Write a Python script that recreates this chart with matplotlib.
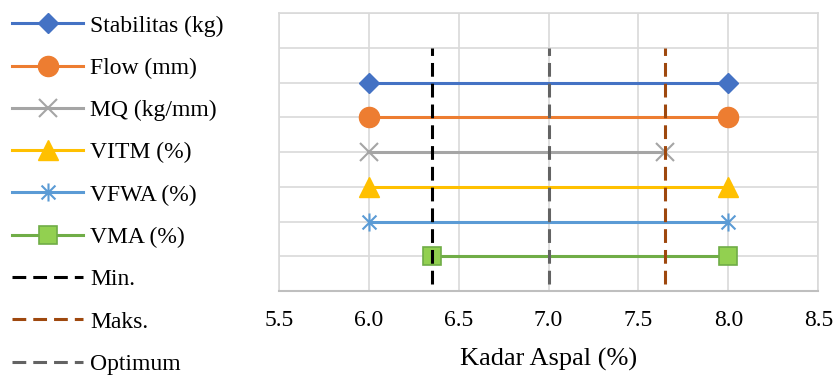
import matplotlib.pyplot as plt
from matplotlib.path import Path

plt.rcParams['font.family'] = ['Liberation Serif', 'DejaVu Serif']

# Rentang kadar aspal yang memenuhi tiap parameter
parameter = ['Stabilitas (kg)', 'Flow (mm)', 'MQ (kg/mm)', 'VITM (%)', 'VFWA (%)', 'VMA (%)']
kadar_awal = [6.0, 6.0, 6.0, 6.0, 6.0, 6.35]
kadar_akhir = [8.0, 8.0, 7.65, 8.0, 8.0, 8.0]
posisi_y = [6, 5, 4, 3, 2, 1]

# Batas kadar aspal
kadar_min = 6.35
kadar_maks = 7.65
kadar_optimum = 7.0
garis_y = [0.2, 7]

# Marker bintang ala Excel: silang + garis tegak
bintang = Path([(-1, -1), (1, 1), (-1, 1), (1, -1), (0, -1.3), (0, 1.3)],
               [Path.MOVETO, Path.LINETO, Path.MOVETO, Path.LINETO, Path.MOVETO, Path.LINETO])

gaya = [
    dict(color='#4472c4', marker='D', ms=10, mfc='#4472c4', mec='#4472c4'),
    dict(color='#ed7d31', marker='o', ms=14.5, mfc='#ed7d31', mec='#ed7d31'),
    dict(color='#a5a5a5', marker='x', ms=13.5, mew=1.5, mfc='none', mec='#a5a5a5'),
    dict(color='#ffc000', marker='^', ms=14.5, mfc='#ffc000', mec='#ffc000'),
    dict(color='#5b9bd5', marker=bintang, ms=13, mew=1.5, mfc='none', mec='#5b9bd5'),
    dict(color='#70ad47', marker='s', ms=13.5, mew=1.2, mfc='#92d050', mec='#70ad47'),
]

fig = plt.figure(figsize=(8.35, 3.76), dpi=100)
ax = fig.add_axes([0.334, 0.226, 0.646, 0.739])

for nama, x0, x1, y, g in zip(parameter, kadar_awal, kadar_akhir, posisi_y, gaya):
    ax.plot([x0, x1], [y, y], lw=2.2, label=nama, zorder=3, **g)

garis_putus = (0, (4.5, 2.3))
ax.plot([kadar_min, kadar_min], garis_y, color='black', lw=2.2, ls=garis_putus, label='Min.', zorder=4)
ax.plot([kadar_maks, kadar_maks], garis_y, color='#9e480e', lw=2.2, ls=garis_putus, label='Maks.', zorder=4)
ax.plot([kadar_optimum, kadar_optimum], garis_y, color='#636363', lw=2.2, ls=garis_putus, label='Optimum', zorder=4)

ax.set_xlim(5.5, 8.5)
ax.set_ylim(0, 8)
ax.set_xticks([5.5, 6.0, 6.5, 7.0, 7.5, 8.0, 8.5])
ax.set_xticklabels(['5.5', '6.0', '6.5', '7.0', '7.5', '8.0', '8.5'])
ax.set_yticks(range(0, 9))
ax.set_yticklabels([])
ax.tick_params(length=0, labelsize=17, pad=13.5)
ax.grid(True, color='#d9d9d9', lw=1.2, zorder=0)
for s in ax.spines.values():
    s.set_color('#d9d9d9')
    s.set_linewidth(1.2)
ax.spines['bottom'].set_color('#bfbfbf')
ax.spines['bottom'].set_linewidth(1.5)
ax.set_xlabel('Kadar Aspal (%)', fontsize=19, labelpad=12)

fig.legend(loc='upper left', bbox_to_anchor=(0.006, 0.979), frameon=False,
           fontsize=17, handlelength=3.0, handletextpad=0.3,
           labelspacing=0.88, borderaxespad=0.2, borderpad=0.1)

fig.savefig('out.png', dpi=100)
